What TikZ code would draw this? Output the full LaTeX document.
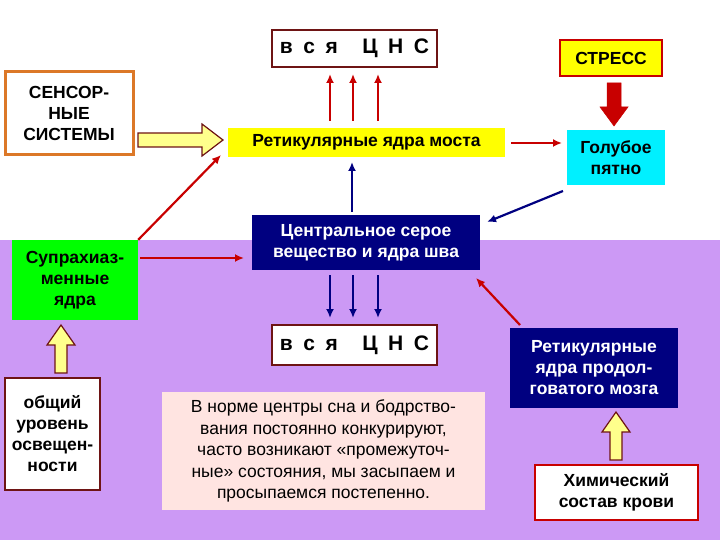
\documentclass[tikz,border=0pt]{standalone}
\usepackage{fontspec}
\setmainfont{Liberation Sans}
\usetikzlibrary{arrows.meta}
\definecolor{lil}{RGB}{204,153,245}
\definecolor{navy}{RGB}{0,0,128}
\definecolor{dred}{RGB}{110,20,20}
\definecolor{rd}{RGB}{200,0,0}
\definecolor{pinkish}{RGB}{255,228,225}
\definecolor{yel}{RGB}{255,255,0}
\definecolor{lyel}{RGB}{255,255,140}
\definecolor{cy}{RGB}{0,240,255}
\definecolor{orng}{RGB}{220,120,40}
\begin{document}
\begin{tikzpicture}[x=1pt,y=-1pt,
 txt/.style={font=\fontsize{17.5}{21}\selectfont\bfseries,align=center,inner sep=0pt},
 bx/.style={txt,draw,line width=1.5pt},
 redar/.style={-{Latex[length=9pt,width=8pt]},rd,line width=2.2pt},
 bluar/.style={-{Latex[length=9pt,width=8pt]},navy,line width=2.2pt},
 fat/.style={draw=dred,line width=1.2pt}]
\useasboundingbox (0,0) rectangle (720,540);
\fill[lil] (0,240) rectangle (720,540);
\node[bx,draw=dred,fill=white,minimum width=165pt,minimum height=37pt,font=\fontsize{21}{24}\selectfont\bfseries] (cns1) at (354.5,48.5) {в\,\,\,с\,\,\,я\quad\,Ц\,\,\,Н\,\,\,С};
\node[bx,draw=rd,line width=2.5pt,fill=yel,minimum width=102pt,minimum height=36pt] (stress) at (611,58) {СТРЕСС};
\node[bx,draw=orng,line width=3pt,fill=white,minimum width=128pt,minimum height=83pt] (sens) at (69,113.5) {СЕНСОР-\\НЫЕ\\СИСТЕМЫ};
\node[txt,fill=yel,minimum width=277pt,minimum height=29pt] (pons) at (366.5,142.5) {Ретикулярные ядра моста};
\node[txt,fill=cy,minimum width=98pt,minimum height=55pt] (blue) at (616,157.5) {Голубое\\пятно};
\node[txt,fill=navy,text=white,minimum width=228pt,minimum height=55pt] (cgray) at (366,242.5) {Центральное серое\\вещество и ядра шва};
\node[txt,fill=green,minimum width=126pt,minimum height=80pt] (supra) at (75,280) {Супрахиаз-\\менные\\ядра};
\node[bx,draw=dred,fill=white,minimum width=165pt,minimum height=40pt,font=\fontsize{21}{24}\selectfont\bfseries] (cns2) at (354.5,345) {в\,\,\,с\,\,\,я\quad\,Ц\,\,\,Н\,\,\,С};
\node[bx,draw=dred,fill=white,minimum width=95pt,minimum height=112pt] (light) at (52.5,434) {общий\\уровень\\освещен-\\ности};
\node[txt,font=\fontsize{17.5}{21.5}\selectfont,fill=pinkish,minimum width=323pt,minimum height=118pt] (norm) at (323.5,451) {В норме центры сна и бодрство-\\вания постоянно конкурируют,\\часто возникают «промежуточ-\\ные» состояния, мы засыпаем и\\просыпаемся постепенно.};
\node[txt,fill=navy,text=white,minimum width=168pt,minimum height=80pt] (med) at (594,368) {Ретикулярные\\ядра продол-\\говатого мозга};
\node[bx,draw=rd,line width=2.5pt,fill=white,minimum width=163pt,minimum height=55pt] (chem) at (616.5,492.5) {Химический\\состав крови};
% thin arrows
\foreach \xx in {330,353,378} {
 \draw[redar] (\xx,121) -- (\xx,74);
 \draw[bluar] (\xx,275) -- (\xx,318);
}
\draw[redar] (supra.north east) -- (221,155);
\draw[redar] (140,258) -- (244,258);
\draw[bluar] (352,212) -- (352,162);
\draw[redar] (511,143) -- (562,143);
\draw[bluar] (563,191) -- (487,222);
\draw[redar] (520,325) -- (476,278);
% fat arrows
\draw[fat,fill=lyel] (138,133) -- (202,133) -- (202,124) -- (223,140) -- (202,156) -- (202,147) -- (138,147) -- cycle;
\draw[rd,fill=rd,line width=0.5pt] (607,83) -- (621,83) -- (621,107) -- (628,107) -- (614,126) -- (600,107) -- (607,107) -- cycle;
\draw[fat,fill=lyel] (55,373) -- (55,345) -- (47,345) -- (61,325) -- (75,345) -- (67,345) -- (67,373) -- cycle;
\draw[fat,fill=lyel] (610,460) -- (610,432) -- (602,432) -- (616,412) -- (630,432) -- (622,432) -- (622,460) -- cycle;
\end{tikzpicture}
\end{document}
